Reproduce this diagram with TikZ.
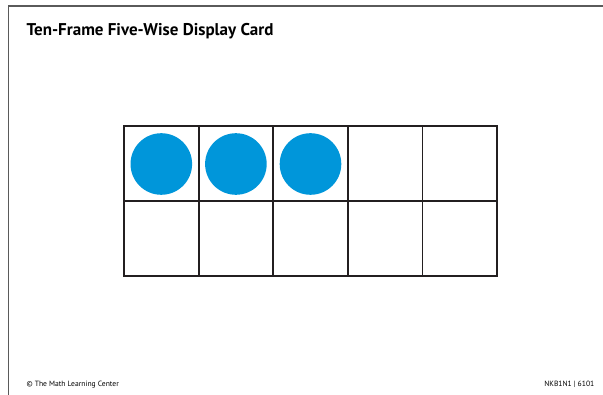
\documentclass[tikz,border=0pt]{standalone}
\usepackage{fontspec}
\setmainfont{PT Sans}
\definecolor{dotblue}{RGB}{0,150,218}
\definecolor{gridline}{RGB}{35,31,32}
\definecolor{framegray}{RGB}{90,90,90}
\begin{document}
\begin{tikzpicture}[x=1pt,y=-1pt,
  cell/.style={draw=gridline,line width=1.8pt},
  counter/.style={fill=dotblue,draw=none},
  txt/.style={inner sep=0pt,text=black}]
\useasboundingbox (0,0) rectangle (603,395);
% card frame
\draw[framegray,line width=1.4pt] (8.5,395) -- (8.5,6) -- (603,6);
% title
\node[txt,anchor=base west,font=\fontsize{17}{20}\selectfont\bfseries] (title) at (26.5,35.5) {Ten-Frame Five-Wise Display Card};
% ten frame
\foreach \c in {0,...,4}{
  \foreach \r in {0,1}{
    \draw[cell] ({124+74.6*\c},{126+75*\r}) rectangle ++(74.6,75);
  }
}
\foreach \c in {0,1,2}{
  \fill[counter] ({124+74.6*\c+37.3},164) circle (30.8);
}
% footer
\node[txt,anchor=base west,font=\fontsize{7.6}{9}\selectfont] (copy) at (26.5,386.5) {© The Math Learning Center};
\node[txt,anchor=base east,font=\fontsize{7.6}{9}\selectfont] (code) at (594.5,386.5) {NKB1N1 | 6101};
\end{tikzpicture}
\end{document}
